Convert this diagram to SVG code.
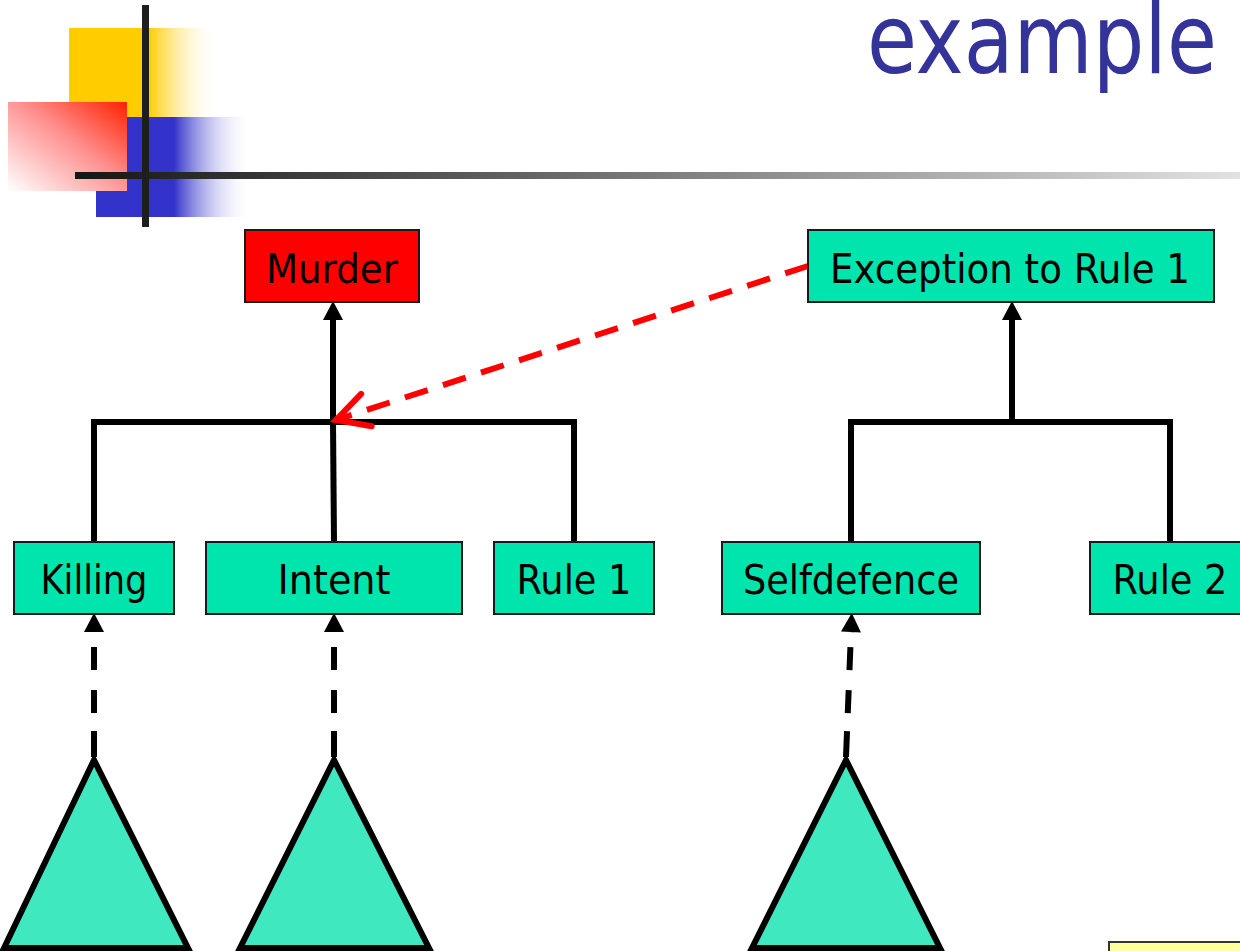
<svg xmlns="http://www.w3.org/2000/svg" width="1240" height="951" viewBox="0 0 1240 951">
  <style>
    .node rect { stroke: #1a1a1a; stroke-width: 2; }
    .green { fill: #00e5ad; }
    .red { fill: #ff0000; }
    .label { font-family: "DejaVu Sans", Verdana, sans-serif; font-size: 41px; fill: #000; text-anchor: middle; }
    .title { font-family: "DejaVu Sans", Verdana, sans-serif; font-size: 97px; fill: #333399; }
    .link { fill: none; stroke: #000; stroke-width: 6; stroke-linecap: butt; stroke-linejoin: miter; }
    .dashed { stroke-dasharray: 26 18 23 20 23 15; }
    .except { fill: none; stroke: #ff0000; stroke-width: 6; stroke-dasharray: 24 16; }
    .tree { fill: #40e8c0; stroke: #000; stroke-width: 6; stroke-linejoin: miter; }
  </style>
  <defs>
    <linearGradient id="gYellow" x1="0" y1="0" x2="1" y2="0">
      <stop offset="0" stop-color="#ffcc00"/>
      <stop offset="0.53" stop-color="#ffcc00"/>
      <stop offset="1" stop-color="#ffffff" stop-opacity="0"/>
    </linearGradient>
    <linearGradient id="gBlue" x1="0" y1="0" x2="1" y2="0">
      <stop offset="0" stop-color="#3333cc"/>
      <stop offset="0.5" stop-color="#3333cc"/>
      <stop offset="1" stop-color="#ffffff" stop-opacity="0"/>
    </linearGradient>
    <linearGradient id="gRed" x1="1" y1="0" x2="0" y2="1">
      <stop offset="0" stop-color="#ff2200"/>
      <stop offset="0.45" stop-color="#ff9090"/>
      <stop offset="1" stop-color="#ffffff"/>
    </linearGradient>
    <linearGradient id="gRule" x1="0" y1="0" x2="1" y2="0">
      <stop offset="0" stop-color="#151515"/>
      <stop offset="1" stop-color="#e2e2e2"/>
    </linearGradient>
    <marker id="arrow" markerUnits="userSpaceOnUse" markerWidth="20" markerHeight="20" refX="0" refY="10" orient="auto" overflow="visible">
      <path d="M0,0 L19,10 L0,20 z" fill="#000"/>
    </marker>
    <marker id="chevron" markerUnits="userSpaceOnUse" markerWidth="40" markerHeight="40" refX="36" refY="19" orient="auto" overflow="visible">
      <path d="M4,2 L36,19 L4,36" fill="none" stroke="#ff0000" stroke-width="6" stroke-linecap="round"/>
    </marker>
  </defs>

  <!-- header decoration -->
  <g id="decoration">
    <rect x="69" y="28" width="150" height="89" fill="url(#gYellow)"/>
    <rect x="96" y="117" width="156" height="100" fill="url(#gBlue)"/>
    <rect x="8" y="102" width="119" height="89" fill="url(#gRed)"/>
    <rect x="75" y="172" width="1165" height="7" fill="url(#gRule)"/>
    <rect x="142" y="5" width="7" height="222" fill="#1e1e1e"/>
  </g>

  <text id="title" class="title" x="867" y="73" textLength="350" lengthAdjust="spacingAndGlyphs">example</text>

  <!-- connectors -->
  <g id="connectors">
    <!-- left rule: conditions joined into Murder -->
    <path class="link" d="M94,542 V422 H574 V542"/>
    <path class="link" d="M333,422 L334,542"/>
    <path class="link" d="M333,422 V320" marker-end="url(#arrow)"/>
    <!-- right rule: conditions joined into the exception -->
    <path class="link" d="M851,542 V422 H1170 V542"/>
    <path class="link" d="M1012,422 V320" marker-end="url(#arrow)"/>
    <!-- exception attacks the Murder rule -->
    <path class="except" d="M808,266 L336,420" marker-end="url(#chevron)"/>
    <!-- evidence supporting leaf conditions -->
    <path class="link dashed" d="M94,757 V632" marker-end="url(#arrow)"/>
    <path class="link dashed" d="M334,757 V632" marker-end="url(#arrow)"/>
    <path class="link dashed" d="M846,757 L851,632" marker-end="url(#arrow)"/>
  </g>

  <!-- nodes -->
  <g id="murder" class="node">
    <rect class="red" x="245" y="230" width="174" height="72"/>
    <text class="label" x="332" y="283" textLength="132" lengthAdjust="spacingAndGlyphs">Murder</text>
  </g>
  <g id="exception" class="node">
    <rect class="green" x="808" y="230" width="406" height="72"/>
    <text class="label" x="1010" y="283" textLength="360" lengthAdjust="spacingAndGlyphs">Exception to Rule 1</text>
  </g>
  <g id="killing" class="node">
    <rect class="green" x="14" y="542" width="160" height="72"/>
    <text class="label" x="94" y="594" textLength="107" lengthAdjust="spacingAndGlyphs">Killing</text>
  </g>
  <g id="intent" class="node">
    <rect class="green" x="206" y="542" width="256" height="72"/>
    <text class="label" x="334" y="594" textLength="113" lengthAdjust="spacingAndGlyphs">Intent</text>
  </g>
  <g id="rule1" class="node">
    <rect class="green" x="494" y="542" width="160" height="72"/>
    <text class="label" x="574" y="594" textLength="115" lengthAdjust="spacingAndGlyphs">Rule 1</text>
  </g>
  <g id="selfdefence" class="node">
    <rect class="green" x="722" y="542" width="258" height="72"/>
    <text class="label" x="851" y="594" textLength="216" lengthAdjust="spacingAndGlyphs">Selfdefence</text>
  </g>
  <g id="rule2" class="node">
    <rect class="green" x="1090" y="542" width="170" height="72"/>
    <text class="label" x="1170" y="594" textLength="115" lengthAdjust="spacingAndGlyphs">Rule 2</text>
  </g>

  <!-- argument subtrees -->
  <g id="tree-killing">
    <polygon class="tree" points="94,760 4,948 188,948"/>
  </g>
  <g id="tree-intent">
    <polygon class="tree" points="334,760 240,948 429,948"/>
  </g>
  <g id="tree-selfdefence">
    <polygon class="tree" points="846,760 752,948 940,948"/>
  </g>

  <g id="note">
    <rect x="1109" y="942" width="140" height="30" fill="#ffff99" stroke="#333333" stroke-width="2"/>
  </g>
</svg>
